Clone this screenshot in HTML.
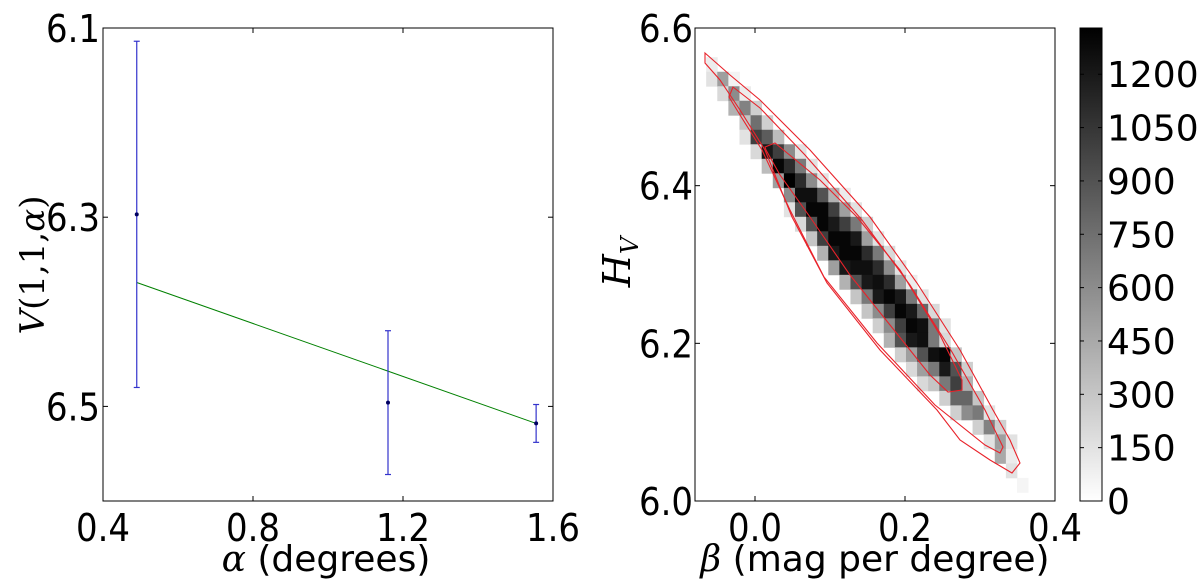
<!DOCTYPE html>
<html><head><meta charset="utf-8"><style>
html,body{margin:0;padding:0;background:#fff;width:1200px;height:579px;overflow:hidden}
svg text{fill:#000}
</style></head><body>
<svg id="fig" width="1200" height="579" viewBox="0 0 1200 579" xmlns="http://www.w3.org/2000/svg"></svg>
<script>
// ---- left panel data ----
const alphaVals = [0.49, 1.16, 1.555];
const magVals = [6.297, 6.496, 6.518];
const magErr = [0.183, 0.076, 0.02];
const fitAlpha = [0.49, 1.555];
const fitMag = [6.369, 6.518];
const leftXTicks = [0.4, 0.8, 1.2, 1.6];
const leftXTickLabels = ["0.4", "0.8", "1.2", "1.6"];
const leftYTicks = [6.1, 6.3, 6.5];
const leftYTickLabels = ["6.1", "6.3", "6.5"];
// ---- right panel data ----
const betaEdge0 = -0.0503, betaBin = 0.0148;
const hEdge0 = 6.5445, hBin = 0.0184;
const heatRowIndex = [-1,0,1,2,3,4,5,6,7,8,9,10,11,12,13,14,15,16,17,18,19,20,21,22,23,24,25,26,27,28];
const heatRowStart = [-1,-1,0,1,2,2,3,4,5,6,6,7,8,9,10,11,12,13,14,15,16,17,18,20,21,23,24,25,26,27];
const heatRowCounts = [
 [100],[150,500,60],[200,600,100],[400,650,250],[300,750,250],[150,1000,850,350],
 [200,1200,1000,600,150],[350,1300,1100,700,150],[500,1330,1100,600,150],
 [600,1250,1250,900,400,100],[150,900,1300,1300,1000,500,150],[200,900,1300,1200,1000,700,250],
 [300,1000,1300,1300,1200,500,150],[400,1200,1300,1300,1100,700,200],[500,1200,1250,1250,1100,600,150],
 [400,900,1200,1250,1100,500,100],[300,700,1200,1300,1200,700,150],[300,600,1000,1300,1200,800,200],
 [250,600,1000,1300,1250,700,150],[400,900,1200,1250,700,200],[250,500,900,1250,1300,300],
 [200,500,700,1200,900,250],[200,300,700,1000,400],[250,800,800,300],[250,600,700,150],
 [250,650,250],[150,500,150],[450,100],[150],[50]];
const countMax = 1330;
const outerBeta = [-0.0667,-0.0333,0.0067,0.0733,0.1533,0.216,0.2733,0.3173,0.34,0.3533,0.3427,0.3133,0.2733,0.2427,0.1667,0.096,0.0493,0.0133,-0.02,-0.0467,-0.0667];
const outerH = [6.5683,6.5404,6.5087,6.4452,6.3603,6.2765,6.1915,6.1154,6.0774,6.0482,6.0355,6.052,6.0774,6.1154,6.1915,6.2765,6.3603,6.4452,6.496,6.534,6.5556];
const midBeta = [-0.0293,0.0067,0.0667,0.1427,0.2067,0.2627,0.3067,0.3307,0.3267,0.3067,0.24,0.1627,0.092,0.0467,0.0093,-0.02,-0.0347];
const midH = [6.5252,6.4985,6.4389,6.3565,6.274,6.189,6.1154,6.0685,6.0609,6.0710,6.1218,6.2004,6.2841,6.3691,6.4452,6.4896,6.5125];
const innerBeta = [0.0133,0.0267,0.0867,0.136,0.1933,0.2467,0.276,0.276,0.2573,0.2333,0.18,0.1267,0.0733,0.0333,0.0147];
const innerH = [6.449,6.4541,6.4072,6.3603,6.293,6.2106,6.1535,6.1408,6.1383,6.1598,6.2233,6.2867,6.3603,6.4135,6.4452];
const rightXTicks = [0.0, 0.2, 0.4];
const rightXTickLabels = ["0.0", "0.2", "0.4"];
const rightYTicks = [6.0, 6.2, 6.4, 6.6];
const rightYTickLabels = ["6.0", "6.2", "6.4", "6.6"];
const cbTicks = [0,150,300,450,600,750,900,1050,1200];
const cbTickLabels = ["0","150","300","450","600","750","900","1050","1200"];

const SANS = 'font-family:"DejaVu Sans","Liberation Sans",sans-serif;';
const SERIF = 'font-family:"DejaVu Serif","Liberation Serif",serif;font-style:italic;';
const NS = "http://www.w3.org/2000/svg";
const svg = document.getElementById("fig");
function mk(tag, attrs, parent){const e=document.createElementNS(NS,tag);for(const k in attrs)e.setAttribute(k,attrs[k]);(parent||svg).appendChild(e);return e;}
const TL={textLength:54,lengthAdjust:"spacingAndGlyphs"};

// ---- left axes ----
const L={x0:103,x1:553,y0:28,y1:501};
const lx=v=>L.x0+(v-0.4)/(1.2)*(L.x1-L.x0);
const ly=v=>L.y0+(v-6.1)/(0.5)*(L.y1-L.y0);
const gL=mk("g",{});


const fit=mk("line",{x1:lx(fitAlpha[0]),y1:ly(fitMag[0]),x2:lx(fitAlpha[1]),y2:ly(fitMag[1]),stroke:"#008000","stroke-width":1},gL);


alphaVals.forEach((a,i)=>{
  const g=mk("g",{},gL);
  
  
  const x=lx(a),yt=ly(magVals[i]-magErr[i]),yb=ly(magVals[i]+magErr[i]);
  mk("line",{x1:x,y1:yt,x2:x,y2:yb,stroke:"#3333cc","stroke-width":1.2},g);
  mk("line",{x1:x-3,y1:yt,x2:x+3,y2:yt,stroke:"#3333cc","stroke-width":1.2},g);
  mk("line",{x1:x-3,y1:yb,x2:x+3,y2:yb,stroke:"#3333cc","stroke-width":1.2},g);
  mk("circle",{cx:x,cy:ly(magVals[i]),r:2,fill:"#000060"},g);
});
const lframe=mk("rect",{x:L.x0,y:L.y0,width:L.x1-L.x0,height:L.y1-L.y0,fill:"none",stroke:"#000","stroke-width":1},gL);


leftXTicks.forEach((t,i)=>{
  const x=lx(t);
  mk("line",{x1:x,y1:L.y1,x2:x,y2:L.y1-5,stroke:"#000"},gL);
  mk("line",{x1:x,y1:L.y0,x2:x,y2:L.y0+5,stroke:"#000"},gL);
  const tx=mk("text",Object.assign({x:x-27,y:541,style:SANS+"font-size:38px"},TL),gL);
  tx.textContent=leftXTickLabels[i];
  
  
});
leftYTicks.forEach((t,i)=>{
  const y=ly(t);
  mk("line",{x1:L.x0,y1:y,x2:L.x0+5,y2:y,stroke:"#000"},gL);
  mk("line",{x1:L.x1,y1:y,x2:L.x1-5,y2:y,stroke:"#000"},gL);
  const tx=mk("text",Object.assign({x:46,y:y+14,style:SANS+"font-size:38px"},TL),gL);
  tx.textContent=leftYTickLabels[i];
  
  
});
const lxl=mk("text",{x:326,y:571,"text-anchor":"middle",style:SANS+"font-size:36px"},gL);
lxl.innerHTML='<tspan style=\''+SERIF+'\'>α</tspan> (degrees)';


const lyl=mk("text",{x:0,y:0,"text-anchor":"middle",transform:"translate(44,265) rotate(-90)",style:'font-family:"DejaVu Serif","Liberation Serif",serif;font-size:34px'},gL);
lyl.innerHTML='<tspan style="font-style:italic">V</tspan>(1,1,<tspan style="font-style:italic">α</tspan>)';



// ---- right axes ----
const R={x0:695,x1:1055,y0:28,y1:501};
const rx=v=>R.x0+(v+0.08)/0.48*(R.x1-R.x0);
const ry=v=>R.y1-(v-6.0)/0.6*(R.y1-R.y0);
const gR=mk("g",{});


const shade=c=>{const g=Math.round(255*(1-Math.min(c,countMax)/countMax));return `rgb(${g},${g},${g})`;};
heatRowIndex.forEach((ri,k)=>{
  const hTop=hEdge0-hBin*ri, hBot=hTop-hBin;
  heatRowCounts[k].forEach((c,m)=>{
    const cj=heatRowStart[k]+m;
    const bL=betaEdge0+betaBin*cj, bR=bL+betaBin;
    const r=mk("rect",{x:rx(bL),y:ry(hTop),width:rx(bR)-rx(bL)+0.4,height:ry(hBot)-ry(hTop)+0.4,fill:shade(c)},gR);
    
    
  });
});
function contour(bs,hs,name){
  const d=bs.map((b,i)=>(i?"L":"M")+rx(b).toFixed(1)+","+ry(hs[i]).toFixed(1)).join("")+"Z";
  const p=mk("path",{d:d,fill:"none",stroke:"#e8222a","stroke-width":1.1},gR);
  
  
}
contour(outerBeta,outerH,'outer-contour');
contour(midBeta,midH,'middle-contour');
contour(innerBeta,innerH,'inner-contour');
const rframe=mk("rect",{x:R.x0,y:R.y0,width:R.x1-R.x0,height:R.y1-R.y0,fill:"none",stroke:"#000","stroke-width":1},gR);


rightXTicks.forEach((t,i)=>{
  const x=rx(t);
  mk("line",{x1:x,y1:R.y1,x2:x,y2:R.y1-5,stroke:"#000"},gR);
  mk("line",{x1:x,y1:R.y0,x2:x,y2:R.y0+5,stroke:"#000"},gR);
  const tx=mk("text",Object.assign({x:x-27,y:541,style:SANS+"font-size:38px"},TL),gR);
  tx.textContent=rightXTickLabels[i];
  
  
});
rightYTicks.forEach((t,i)=>{
  const y=ry(t);
  mk("line",{x1:R.x0,y1:y,x2:R.x0+5,y2:y,stroke:"#000"},gR);
  mk("line",{x1:R.x1,y1:y,x2:R.x1-5,y2:y,stroke:"#000"},gR);
  const tx=mk("text",Object.assign({x:639,y:y+14,style:SANS+"font-size:38px"},TL),gR);
  tx.textContent=rightYTickLabels[i];
  
  
});
const rxl=mk("text",{x:875,y:571,"text-anchor":"middle",style:SANS+"font-size:36px"},gR);
rxl.innerHTML='<tspan style=\''+SERIF+'\'>β</tspan> (mag per degree)';


const ryl=mk("text",{x:0,y:0,"text-anchor":"middle",transform:"translate(630,262) rotate(-90)",style:SERIF+"font-size:38px"},gR);
ryl.innerHTML='H<tspan style="font-size:24px" dy="8">V</tspan>';



// ---- colorbar ----
const C={x0:1080,x1:1102,y0:28,y1:501};
const cy=v=>C.y1-v/countMax*(C.y1-C.y0);
const gC=mk("g",{});


const defs=mk("defs",{},gC);
const lg=mk("linearGradient",{id:"cbg",x1:0,y1:1,x2:0,y2:0},defs);
mk("stop",{offset:0,"stop-color":"#fff"},lg);
mk("stop",{offset:1,"stop-color":"#000"},lg);
mk("rect",{x:C.x0,y:C.y0,width:C.x1-C.x0,height:C.y1-C.y0,fill:"url(#cbg)",stroke:"#000","stroke-width":1},gC);
cbTicks.forEach((t,i)=>{
  const y=cy(t);
  mk("line",{x1:C.x0,y1:y,x2:C.x0+4,y2:y,stroke:"#000"},gC);
  mk("line",{x1:C.x1,y1:y,x2:C.x1-4,y2:y,stroke:"#000"},gC);
  const tx=mk("text",{x:1107,y:y+13,style:SANS+"font-size:36px"},gC);
  tx.textContent=cbTickLabels[i];
  
  
});
</script>
</body></html>
